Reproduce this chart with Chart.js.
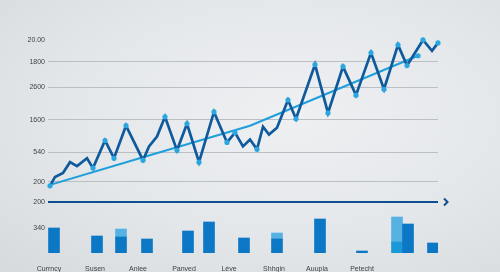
<!DOCTYPE html>
<html>
<head>
<meta charset="utf-8">
<script src="https://cdn.jsdelivr.net/npm/chart.js@4"></script>
<style>
  html, body { margin: 0; padding: 0; }
  body {
    width: 500px; height: 272px; overflow: hidden; position: relative;
    background: radial-gradient(ellipse at 58% 42%, #eef0f2 0%, #e4e7ea 55%, #d6dadd 100%);
  }
  canvas { position: absolute; left: 0; }
  #lineChart { top: 0; }
  #barChart { top: 190px; }
</style>
</head>
<body>
<canvas id="lineChart" width="500" height="195"></canvas>
<canvas id="barChart" width="500" height="82"></canvas>
<script>
// upper chart: zigzag series and its trend
const lineX = [2, 7, 15, 22, 29, 39, 45, 57, 66, 78, 95, 101, 109, 117, 129, 139, 151, 166, 179, 187,
               195, 202, 209, 215, 221, 229, 240, 248, 267, 280, 295, 308, 323, 336, 350, 359, 375, 384, 390];
const lineY = [0, 90, 130, 240, 200, 280, 180, 460, 280, 610, 260, 400, 500, 700, 360, 630, 240, 750, 440, 540,
               400, 470, 370, 600, 520, 590, 870, 680, 1230, 740, 1210, 920, 1350, 980, 1430, 1220, 1480, 1370, 1450];
const trendX = [2, 95, 202, 370];
const trendY = [10, 290, 610, 1320];
const lineTickValues = [40, 340, 670, 1000, 1260, 1480];
const lineTickLabels = ["200", "540", "1600", "2600", "1800", "20.00"];

// lower chart: bars
const barX = [6, 49, 73, 99, 140, 161, 196, 229, 272, 314, 349, 360, 385];
const barMain = [125, 85, 80, 70, 110, 155, 75, 70, 170, 10, null, 145, 50];
const barAlt = [null, null, null, null, null, null, null, null, null, null, 55, null, null];
const barCap = [null, null, 40, null, null, null, null, 30, null, null, 125, null, null];
const barLabelX = [1, 47, 90, 136, 181, 226, 269, 314];
const barLabels = ["Currncy", "Susen", "Anlee", "Panved", "Léve", "Shhgin", "Auupla", "Petecht"];
const barTickValues = [125, 255];
const barTickLabels = ["340", "200"];

const labelFont = { family: "'Liberation Sans', Arial, sans-serif", size: 7 };
const labelColor = "#3d4246";
const darkBlue = "#0f5a9c";

const toPoints = (xs, ys) => xs.map((x, i) => ({ x: x, y: ys[i] }));

// marker only on the bigger peaks and dips
function isSwing(i) {
    if (i === 0 || i === lineY.length - 1) return true;
    const a = lineY[i - 1], b = lineY[i], c = lineY[i + 1];
    const turn = (b > a && b > c) || (b < a && b < c);
    return turn && Math.min(Math.abs(b - a), Math.abs(b - c)) >= 90;
}

new Chart(document.getElementById("lineChart"), {
    type: "line",
    data: {
        datasets: [{
            data: toPoints(lineX, lineY),
            borderColor: darkBlue,
            borderWidth: 2.7,
            tension: 0,
            pointRadius: ctx => isSwing(ctx.dataIndex) ? 2.6 : 0,
            pointBackgroundColor: "#2ba7e0",
            pointBorderWidth: 0,
            clip: false
        }, {
            data: toPoints(trendX, trendY),
            borderColor: "#1e9edb",
            borderWidth: 2,
            tension: 0,
            pointRadius: ctx => ctx.dataIndex === trendX.length - 1 ? 2.6 : 0,
            pointBackgroundColor: "#2ba7e0",
            pointBorderWidth: 0,
            clip: false
        }]
    },
    options: {
        responsive: false,
        animation: false,
        layout: { padding: { top: 37, right: 62, bottom: 5, left: 0 } },
        plugins: { legend: { display: false }, tooltip: { enabled: false } },
        scales: {
            x: { type: "linear", min: 0, max: 390, display: false },
            y: {
                min: -20, max: 1510,
                afterBuildTicks: scale => { scale.ticks = lineTickValues.map(v => ({ value: v })); },
                afterFit: scale => { scale.width = 48; },
                border: { display: false },
                grid: {
                    drawTicks: false,
                    color: ctx => ctx.tick && ctx.tick.value === 1480 ? "transparent" : "#bbbfc3",
                    lineWidth: 1
                },
                ticks: {
                    padding: 3, autoSkip: false,
                    font: labelFont, color: labelColor,
                    callback: v => lineTickLabels[lineTickValues.indexOf(v)]
                }
            }
        }
    }
});

// little chevron at the end of the divider line
const chevron = {
    id: "chevron",
    afterDraw(chart) {
        const y = chart.scales.y.getPixelForValue(barTickValues[1]);
        const x = chart.chartArea.right + 6;
        const ctx = chart.ctx;
        ctx.save();
        ctx.strokeStyle = "#0f4f8f";
        ctx.lineWidth = 2;
        ctx.beginPath();
        ctx.moveTo(x, y - 3.5);
        ctx.lineTo(x + 3.5, y);
        ctx.lineTo(x, y + 3.5);
        ctx.stroke();
        ctx.restore();
    }
};

new Chart(document.getElementById("barChart"), {
    type: "bar",
    data: {
        datasets: [
            { data: toPoints(barX, barMain), backgroundColor: "#0b77c5" },
            { data: toPoints(barX, barAlt), backgroundColor: "#1b98d7" },
            { data: toPoints(barX, barCap), backgroundColor: "#56b2e2" }
        ]
    },
    options: {
        responsive: false,
        animation: false,
        barThickness: 11,
        layout: { padding: { top: 12, right: 62, bottom: 0, left: 0 } },
        plugins: { legend: { display: false }, tooltip: { enabled: false } },
        scales: {
            x: {
                type: "linear", min: 0, max: 390, stacked: true, offset: false,
                afterBuildTicks: scale => { scale.ticks = barLabelX.map(v => ({ value: v })); },
                afterFit: scale => { scale.height = 19; },
                border: { display: false },
                grid: { display: false, offset: false, drawTicks: false },
                ticks: {
                    padding: 12, autoSkip: false, maxRotation: 0, minRotation: 0,
                    font: labelFont, color: labelColor,
                    callback: v => barLabels[barLabelX.indexOf(v)]
                }
            },
            y: {
                min: 0, max: 255, stacked: true,
                afterBuildTicks: scale => { scale.ticks = barTickValues.map(v => ({ value: v })); },
                afterFit: scale => { scale.width = 48; },
                border: { display: false },
                grid: {
                    drawTicks: false,
                    color: ctx => ctx.tick && ctx.tick.value === 255 ? "#0f4f8f" : "transparent",
                    lineWidth: ctx => ctx.tick && ctx.tick.value === 255 ? 2 : 0
                },
                ticks: {
                    padding: 3, autoSkip: false,
                    font: labelFont, color: labelColor,
                    callback: v => barTickLabels[barTickValues.indexOf(v)]
                }
            }
        }
    },
    plugins: [chevron]
});
</script>
</body>
</html>
